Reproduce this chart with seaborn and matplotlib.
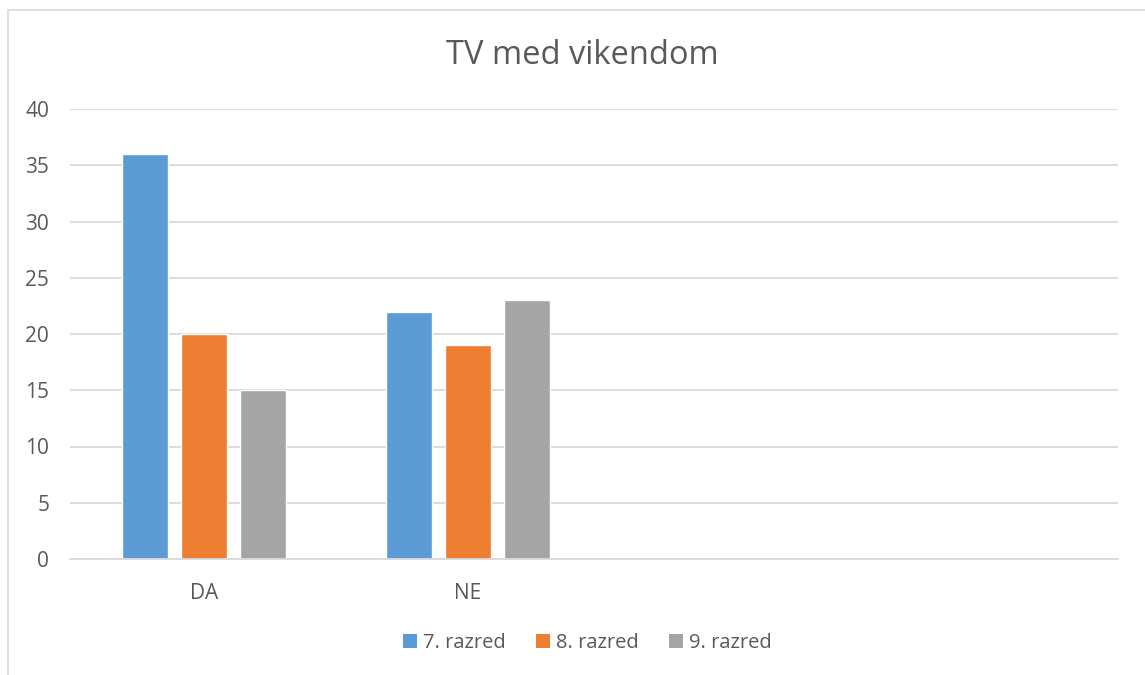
import matplotlib
matplotlib.use("Agg")
import matplotlib.pyplot as plt
import seaborn as sns
import pandas as pd
import numpy as np
from matplotlib.lines import Line2D
from matplotlib.patches import Patch

categories = ["DA", "NE", " ", "  "]
series = ["7. razred", "8. razred", "9. razred"]
values_7 = [36, 22, np.nan, np.nan]
values_8 = [20, 19, np.nan, np.nan]
values_9 = [15, 23, np.nan, np.nan]
colors = ["#5B9BD5", "#ED7D31", "#A5A5A5"]
yticks = [0, 5, 10, 15, 20, 25, 30, 35, 40]

rows = []
for s, vals in zip(series, [values_7, values_8, values_9]):
    for c, v in zip(categories, vals):
        rows.append({"cat": c, "series": s, "val": v})
df = pd.DataFrame(rows)

sns.set_theme(style="white")
plt.rcParams['font.family'] = ['Open Sans', 'DejaVu Sans']
text_color = "#595959"

fig = plt.figure(figsize=(11.45, 6.75), dpi=100)
ax = fig.add_axes([70/1145, 1-559/675, 1048/1145, 450/675])

sns.barplot(data=df, x="cat", y="val", hue="series", order=categories,
            hue_order=series, palette=colors, width=0.67, gap=0.22,
            errorbar=None, ax=ax, legend=False, saturation=1)

ax.set_xlim(-0.5076, 3.462)
ax.set_ylim(0, 40)
ax.set_yticks(yticks)
ax.set_yticklabels([str(t) for t in yticks])
ax.yaxis.grid(True, color="#D9D9D9", linewidth=1.3)
ax.set_axisbelow(True)
for sp in ["top", "right", "left"]:
    ax.spines[sp].set_visible(False)
ax.spines["bottom"].set_color("#D9D9D9")
ax.spines["bottom"].set_linewidth(1.3)
ax.tick_params(axis="y", length=0, pad=15, labelsize=15, labelcolor=text_color)
ax.tick_params(axis="x", length=0, pad=17, labelsize=15, labelcolor=text_color)
ax.set_xlabel("")
ax.set_ylabel("")

fig.text(0.509, 1-55/675, "TV med vikendom", ha="center", va="center",
         fontsize=23.5, color=text_color)

handles = [Patch(facecolor=c, edgecolor="none") for c in colors]
fig.legend(handles, series, loc="center", bbox_to_anchor=(0.513, 1-643/675),
           ncol=3, frameon=False, fontsize=14.5, labelcolor=text_color,
           handlelength=0.7, handleheight=0.7, handletextpad=0.3,
           columnspacing=1.5)

fig.add_artist(Line2D([8/1145, 8/1145], [0, 1-10/675], transform=fig.transFigure,
                      color="#D9D9D9", linewidth=1.2))
fig.add_artist(Line2D([8/1145, 1], [1-10/675, 1-10/675], transform=fig.transFigure,
                      color="#D9D9D9", linewidth=1.2))

fig.savefig("out.png", dpi=100)
